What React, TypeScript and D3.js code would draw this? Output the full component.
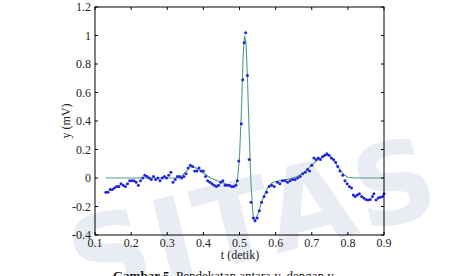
import React from "react";
import * as d3 from "d3";

const dotT = [0.130,0.136,0.142,0.148,0.154,0.160,0.166,0.172,0.178,0.184,0.190,0.196,0.202,0.208,0.214,0.220,0.226,0.232,0.238,0.244,0.250,0.256,0.262,0.268,0.274,0.280,0.286,0.292,0.298,0.304,0.310,0.316,0.322,0.328,0.334,0.340,0.346,0.352,0.358,0.364,0.370,0.376,0.382,0.388,0.394,0.400,0.406,0.412,0.418,0.424,0.430,0.436,0.442,0.448,0.454,0.460,0.466,0.472,0.478,0.484,0.490,0.494,0.498,0.505,0.509,0.513,0.517,0.522,0.527,0.532,0.538,0.543,0.549,0.555,0.561,0.568,0.575,0.582,0.589,0.596,0.605,0.612,0.619,0.626,0.633,0.640,0.647,0.654,0.661,0.668,0.675,0.682,0.688,0.694,0.700,0.706,0.712,0.718,0.724,0.730,0.736,0.742,0.748,0.754,0.760,0.766,0.772,0.778,0.786,0.792,0.798,0.804,0.810,0.815,0.820,0.826,0.832,0.838,0.844,0.850,0.856,0.862,0.868,0.872,0.878,0.884,0.890,0.896,0.900];
const dotV = [-0.10,-0.10,-0.08,-0.08,-0.07,-0.06,-0.06,-0.04,-0.05,-0.06,-0.04,-0.02,-0.02,-0.02,-0.03,-0.05,-0.02,0.00,0.02,0.01,0.00,-0.01,0.01,-0.01,0.00,-0.02,0.00,0.01,0.00,0.02,0.04,-0.03,-0.01,0.01,0.01,0.00,0.01,0.03,0.07,0.09,0.08,0.05,0.05,0.07,0.05,0.05,0.01,-0.02,-0.03,-0.04,-0.05,-0.06,-0.05,-0.03,-0.02,-0.05,-0.05,-0.05,-0.06,-0.06,-0.05,-0.02,0.12,0.38,0.69,0.95,1.02,0.72,0.13,-0.17,-0.28,-0.30,-0.28,-0.23,-0.17,-0.13,-0.10,-0.06,-0.05,-0.06,-0.03,-0.04,-0.02,-0.02,-0.03,-0.02,-0.01,-0.01,0.00,0.01,0.03,0.04,0.06,0.05,0.09,0.14,0.13,0.14,0.13,0.15,0.16,0.17,0.16,0.14,0.13,0.11,0.08,0.05,0.02,-0.02,-0.04,-0.06,-0.07,-0.12,-0.13,-0.12,-0.11,-0.13,-0.14,-0.15,-0.155,-0.15,-0.13,-0.11,-0.155,-0.14,-0.135,-0.13,-0.11];

const fitT = [0.13,0.335,0.35,0.365,0.38,0.40,0.42,0.45,0.48,0.49,0.495,0.50,0.505,0.51,0.514,0.518,0.522,0.527,0.532,0.537,0.543,0.55,0.56,0.57,0.58,0.59,0.60,0.62,0.64,0.66,0.68,0.70,0.72,0.74,0.75,0.76,0.77,0.78,0.79,0.80,0.82,0.9];
const fitV = [0,0,0.04,0.085,0.07,0.035,0.0,-0.03,-0.06,-0.05,0.0,0.15,0.45,0.85,1.0,0.95,0.7,0.3,-0.05,-0.25,-0.30,-0.26,-0.18,-0.11,-0.06,-0.035,-0.025,-0.015,-0.005,0.01,0.04,0.09,0.135,0.16,0.155,0.13,0.09,0.05,0.02,0.005,0.0,0.0];

const xTicks = [0.1,0.2,0.3,0.4,0.5,0.6,0.7,0.8,0.9];
const yTicks = [-0.4,-0.2,0,0.2,0.4,0.6,0.8,1,1.2];

export default function App() {
  const W = 467, H = 276;
  const L = 95, R = 384, T = 7, B = 235;
  const x = d3.scaleLinear().domain([0.1, 0.9]).range([L, R]);
  const y = d3.scaleLinear().domain([-0.4, 1.2]).range([B, T]);
  const line = d3.line<number>().x((_, i) => x(fitT[i])).y((d) => y(d));
  const font = "'Liberation Serif', 'Times New Roman', serif";
  return (
    <svg width={W} height={H} style={{ position: "absolute", left: 0, top: 0 }} fontFamily={font}>
      <rect width={W} height={H} fill="#fff" />
      <text x={70} y={262} transform="rotate(-14 240 240)" fontFamily="'DejaVu Sans', sans-serif" fontWeight="bold" fontSize={112} fill="#eaecf4" letterSpacing={4}>SITAS BRI</text>
      <path d={line(fitV) || ""} fill="none" stroke="#4e9f86" strokeWidth={1.1} />
      {dotV.map((v, i) => (
        <circle key={i} cx={x(dotT[i])} cy={y(v)} r={1.5} fill="#2323dd" />
      ))}
      <rect x={L} y={T} width={R - L} height={B - T} fill="none" stroke="#000" strokeWidth={1} />
      {xTicks.map((t) => (
        <g key={"x" + t}>
          <line x1={x(t)} x2={x(t)} y1={B} y2={B - 3} stroke="#000" />
          <line x1={x(t)} x2={x(t)} y1={T} y2={T + 3} stroke="#000" />
          <text x={x(t)} y={247} fontSize={12} textAnchor="middle" fill="#222">{String(t)}</text>
        </g>
      ))}
      {yTicks.map((v) => (
        <g key={"y" + v}>
          <line x1={L} x2={L + 3} y1={y(v)} y2={y(v)} stroke="#000" />
          <line x1={R} x2={R - 3} y1={y(v)} y2={y(v)} stroke="#000" />
          <text x={91} y={y(v) + 4} fontSize={12} textAnchor="end" fill="#222">{String(v)}</text>
        </g>
      ))}
      <text x={240} y={259} fontSize={12} textAnchor="middle" fill="#222">t (detik)</text>
      <text transform="translate(70,121) rotate(-90)" fontSize={12} textAnchor="middle" fill="#222">y (mV)</text>
      <text x={113} y={280} fontSize={13} fill="#111">
        <tspan fontWeight="bold">Gambar 5</tspan>
        <tspan>. Pendekatan antara y</tspan>
        <tspan fontSize={8} dy={3}>r</tspan>
        <tspan dy={-3}> dengan y</tspan>
        <tspan fontSize={8} dy={3}>a</tspan>
      </text>
    </svg>
  );
}
